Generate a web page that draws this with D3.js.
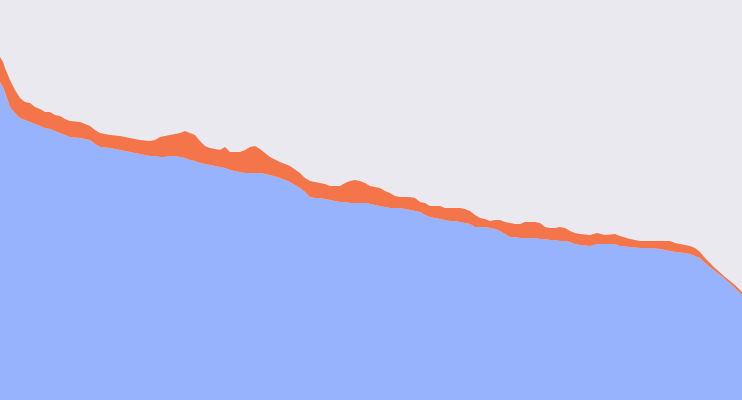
<!DOCTYPE html>
<html>
<head>
<meta charset="utf-8">
<script src="https://cdn.jsdelivr.net/npm/d3@7"></script>
<style>
  body { margin: 0; background: #eae9f0; }
  svg { display: block; }
</style>
</head>
<body>
<div id="chart"></div>
<script>
// x positions along the series
var xs = [0,3,5,10,15,20,25,30,35,40,45,50,55,60,65,70,80,85,90,95,100,110,120,130,140,150,155,160,165,170,175,180,185,190,195,200,205,210,215,220,225,230,240,245,250,255,260,265,270,280,290,300,305,310,315,320,325,330,335,340,345,350,355,360,365,370,380,385,390,395,400,405,410,415,420,425,430,440,445,450,455,460,465,470,475,480,485,490,495,500,505,510,515,520,525,530,535,540,545,550,555,560,565,570,575,580,590,597,605,615,620,630,640,650,660,670,675,685,690,695,700,705,715,725,735,742]

// bottom series (blue)
var seriesA = [318,313,308,293,287,282,280,278,276,274,272,271,269,267,265,263,262,261,260,256,253,252,250,248,246,244,244,243,243,244,244,243,242,240,239,237,236,235,234,233,232,230,228,227,227,227,227,226,225,222,218,212,208,203,202,202,201,200,199,198,198,197,197,197,197,196,194,193,192,192,192,191,190,189,188,185,183,181,180,179,179,178,177,176,173,173,173,172,171,169,166,163,163,162,162,162,162,161,161,160,160,159,159,158,156,155,154,156,156,156,154,153,152,152,151,149,148,147,146,144,142,137,129,121,112,105]

// top series (orange), stacked on the blue one
var seriesB = [25,25,24,27,23,20,18,19,17,17,16,17,16,17,16,16,16,15,14,14,14,13,14,14,14,15,16,20,21,21,22,24,27,27,26,22,18,17,17,17,21,18,20,23,26,27,24,21,18,16,16,15,14,16,16,15,15,14,15,16,19,22,23,22,20,18,18,16,15,12,11,12,13,13,10,12,11,13,12,13,13,14,14,13,12,9,8,7,9,11,12,14,13,14,16,16,16,16,12,12,12,14,13,11,11,11,11,11,9,10,10,8,7,7,8,10,9,8,8,8,6,5,3,2,3,3]

var keys = ['a', 'b']
var colors = ['#97b3fd', '#f5754a']

var width = 742, height = 400

var rows = xs.map(function(x, i){
    return { x: x, a: seriesA[i], b: seriesB[i] }
})

var layers = d3.stack().keys(keys)(rows)

var x = d3.scaleLinear()
    .domain([0, 742])
    .range([0, width])

var y = d3.scaleLinear()
    .domain([0, 400])
    .range([height, 0])

var svg = d3.select('#chart')
    .append('svg')
    .attr('width', width)
    .attr('height', height)

svg.append('rect')
    .attr('width', width)
    .attr('height', height)
    .attr('fill', '#eae9f0')

var area = d3.area()
    .x(function(d){ return x(d.data.x) })
    .y0(function(d){ return y(d[0]) })
    .y1(function(d){ return y(d[1]) })

svg.selectAll('path.layer')
    .data(layers)
    .enter()
    .append('path')
    .attr('class', 'layer')
    .attr('d', area)
    .attr('fill', function(d, i){ return colors[i] })
</script>
</body>
</html>
